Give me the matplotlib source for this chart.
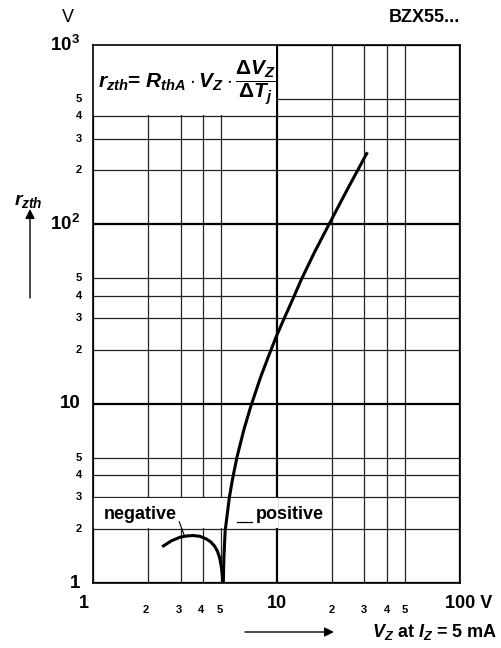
import numpy as np
import matplotlib
matplotlib.use('Agg')
import matplotlib.pyplot as plt
import matplotlib.transforms as mtransforms
from matplotlib.patches import Rectangle

plt.rcParams['font.family'] = ['Liberation Sans', 'DejaVu Sans']
plt.rcParams['font.weight'] = 'bold'
plt.rcParams['mathtext.fontset'] = 'custom'
plt.rcParams['mathtext.it'] = 'Liberation Sans:italic:bold'
plt.rcParams['mathtext.rm'] = 'Liberation Sans:bold'
plt.rcParams['mathtext.bf'] = 'Liberation Sans:bold'

# ---------------------------------------------------------------------------
# Data (V_Z in V, r_zth in V)
# ---------------------------------------------------------------------------
pos_vz = [5.13, 5.17, 5.25, 5.53, 5.76, 6.09, 6.65, 7.22, 8.18, 9.05, 9.94,
          10.9, 12.4, 13.6, 16.1, 19.2, 24.2, 31.0]
pos_rz = [1.0, 1.4, 1.95, 2.98, 3.8, 5.03, 7.2, 9.56, 14.0, 18.4, 23.5,
          29.2, 39.2, 48.8, 69.8, 98.7, 155.0, 248.0]

neg_vz = [2.42, 2.68, 2.98, 3.25, 3.52, 3.83, 4.10, 4.37, 4.59, 4.77, 4.90,
          5.00, 5.06, 5.10]
neg_rz = [1.61, 1.72, 1.80, 1.83, 1.84, 1.82, 1.77, 1.70, 1.61, 1.50, 1.38,
          1.24, 1.12, 1.0]

x_major = [1, 10, 100]
x_minor = [2, 3, 4, 5, 20, 30, 40, 50]
y_major = [1, 10, 100, 1000]
y_minor = [2, 3, 4, 5, 20, 30, 40, 50, 200, 300, 400, 500]

x_major_labels = ['1', '10', '100 V']
y_major_labels = ['1', '10', r'10$^\mathregular{2}$', r'10$^\mathregular{3}$']

# ---------------------------------------------------------------------------
fig = plt.figure(figsize=(5.02, 6.48), dpi=100, facecolor='white')
ax = fig.add_axes([93 / 502, 1 - 583 / 648, 367 / 502, 538 / 648])
ax.set_xscale('log')
ax.set_yscale('log')
ax.set_xlim(1, 100)
ax.set_ylim(1, 1000)

ax.set_xticks(x_major)
ax.set_xticks(x_minor, minor=True)
ax.set_yticks(y_major)
ax.set_yticks(y_minor, minor=True)
ax.tick_params(which='both', length=0, labelbottom=False, labelleft=False)
ax.grid(which='major', color='black', lw=1.6)
ax.grid(which='minor', color='#222222', lw=0.9)
for sp in ax.spines.values():
    sp.set_linewidth(1.2)
    sp.set_zorder(3)

# blank areas behind the formula and the curve labels
ax.add_patch(Rectangle((1, 405), 9.93 - 1, 1000 - 405, facecolor='white',
                       edgecolor='none', zorder=1.7))
ax.add_patch(Rectangle((1, 2.03), 10.15 - 1, 2.96 - 2.03, facecolor='white',
                       edgecolor='none', zorder=1.7))

ax.plot(pos_vz, pos_rz, color='black', lw=2.2, zorder=2.5,
        solid_joinstyle='round')
ax.plot(neg_vz, neg_rz, color='black', lw=2.2, zorder=2.5,
        solid_joinstyle='round')

# curve labels with leader marks
ax.text(1.80, 2.42, 'negative', ha='center', va='center', fontsize=13,
        zorder=4)
ax.plot([2.95, 3.14], [2.195, 1.85], color='black', lw=0.8, zorder=4)
ax.text(11.8, 2.42, 'positive', ha='center', va='center', fontsize=13,
        zorder=4)
ax.plot([6.12, 7.32], [2.195, 2.195], color='black', lw=0.9, zorder=4)

# formula
ax.text(1.06, 614, r'$r_{zth}$= $R_{thA}\cdot V_Z\cdot\dfrac{\Delta V_Z}{\Delta T_j}$',
        ha='left', va='center', fontsize=15, zorder=4)

# tick labels
xt = ax.get_xaxis_transform()
yt = ax.get_yaxis_transform()
for v, lab in zip(x_major, x_major_labels):
    if lab == '1':
        tr = mtransforms.offset_copy(xt, fig, x=-9, units='dots')
        ax.text(v, -0.039, lab, transform=tr, ha='center', va='center',
                fontsize=13)
    elif lab.startswith('100'):
        tr = mtransforms.offset_copy(xt, fig, x=-15, units='dots')
        ax.text(v, -0.039, lab, transform=tr, ha='left', va='center',
                fontsize=13)
    else:
        ax.text(v, -0.039, lab, transform=xt, ha='center', va='center',
                fontsize=13)
for v in x_minor[:4]:
    tr = mtransforms.offset_copy(xt, fig, x=-2, units='dots')
    ax.text(v, -0.05, str(v), transform=tr, ha='center', va='center',
            fontsize=8)
for v in x_minor[4:]:
    ax.text(v, -0.05, str(v // 10), transform=xt, ha='center', va='center',
            fontsize=8)

for v, lab in zip(y_major, y_major_labels):
    ax.text(-0.035, v, lab, transform=yt, ha='right', va='center',
            fontsize=13.5)
for v in y_minor:
    d = str(v)[0]
    ax.text(-0.03, v, d, transform=yt, ha='right', va='center', fontsize=8)

# unit, title, axis labels
fig.text(68 / 502, 1 - 18 / 648, 'V', ha='center', va='center',
         fontsize=13, fontweight='normal')
fig.text(460 / 502, 1 - 18 / 648, 'BZX55...', ha='right', va='center',
         fontsize=13)
fig.text(28 / 502, 1 - 201 / 648, r'$r_{zth}$', ha='center', va='center',
         fontsize=14)
fig.text(497 / 502, 1 - 632 / 648, r'$V_Z$ at $I_Z$ = 5 mA', ha='right',
         va='center', fontsize=13)

ax.annotate('', xy=(30 / 502, 1 - 209 / 648), xytext=(30 / 502, 1 - 298 / 648),
            xycoords='figure fraction', textcoords='figure fraction',
            arrowprops=dict(arrowstyle='-|>', color='black', lw=1.0,
                            mutation_scale=14, shrinkA=0, shrinkB=0))
ax.annotate('', xy=(334 / 502, 1 - 632 / 648), xytext=(245 / 502, 1 - 632 / 648),
            xycoords='figure fraction', textcoords='figure fraction',
            arrowprops=dict(arrowstyle='-|>', color='black', lw=1.0,
                            mutation_scale=14, shrinkA=0, shrinkB=0))

fig.savefig('out.png', dpi=100, facecolor='white')
